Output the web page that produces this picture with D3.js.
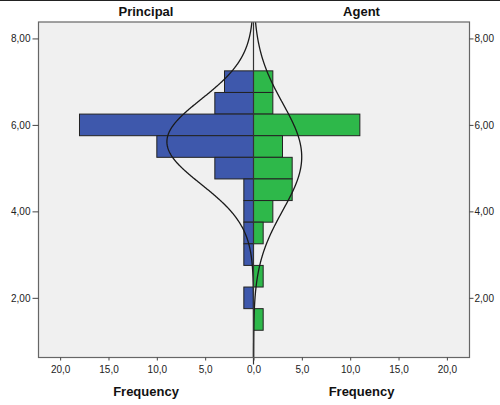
<!DOCTYPE html>
<html><head><meta charset="utf-8">
<script src="https://cdn.jsdelivr.net/npm/d3@7"></script>
<style>body{margin:0;background:#fff}svg{display:block}text{font-family:"Liberation Sans",Arial,sans-serif}</style>
</head><body>
<svg id="c" width="500" height="405"></svg>
<script>
const binCenters = [7.0, 6.5, 6.0, 5.5, 5.0, 4.5, 4.0, 3.5, 3.0, 2.5, 2.0, 1.5];
const principalCounts = [3, 4, 18, 10, 4, 1, 1, 1, 1, 0, 1, 0];
const agentCounts = [2, 2, 11, 3, 4, 4, 2, 1, 0, 1, 0, 1];
const binWidth = 0.5;
const principalFit = {mean: 5.61, sd: 0.98, n: 44};
const agentFit = {mean: 5.26, sd: 1.24, n: 31};
const yTicks = [2, 4, 6, 8];
const xTicks = [0, 5, 10, 15, 20];
const panelTitles = ["Principal", "Agent"];
const xTitle = "Frequency";

const svg = d3.select("#c");
const L = 38.5, R = 469.5, T = 22, B = 357.5, C = 253.5;
const y = d3.scaleLinear().domain([0.62, 8.38]).range([B, T]);
const xl = d3.scaleLinear().domain([0, 22.24]).range([C, L]);
const xr = d3.scaleLinear().domain([0, 22.34]).range([C, R]);
const fmt1 = d => d.toFixed(1).replace(".", ",");
const fmt2 = d => d.toFixed(2).replace(".", ",");

svg.append("line").attr("x1",0).attr("x2",500).attr("y1",0.5).attr("y2",0.5).attr("stroke","#222").attr("stroke-width",1);

svg.append("rect").attr("x",L).attr("y",T).attr("width",R-L).attr("height",B-T).attr("fill","#f0f0f0");

svg.append("clipPath").attr("id","clip").append("rect").attr("x",L).attr("y",T).attr("width",R-L).attr("height",B-T);
const g = svg.append("g").attr("clip-path","url(#clip)");

const pData = binCenters.map((c,i)=>({c, v: principalCounts[i]})).filter(d=>d.v>0);
const aData = binCenters.map((c,i)=>({c, v: agentCounts[i]})).filter(d=>d.v>0);

g.selectAll("rect.p").data(pData).join("rect")
  .attr("x", d=>xl(d.v)).attr("width", d=>xl(0)-xl(d.v))
  .attr("y", d=>y(d.c+binWidth/2)).attr("height", d=>y(d.c-binWidth/2)-y(d.c+binWidth/2))
  .attr("fill","#3e58ac").attr("stroke","#222").attr("stroke-width",1);
g.selectAll("rect.a").data(aData).join("rect")
  .attr("x", xr(0)).attr("width", d=>xr(d.v)-xr(0))
  .attr("y", d=>y(d.c+binWidth/2)).attr("height", d=>y(d.c-binWidth/2)-y(d.c+binWidth/2))
  .attr("fill","#2eb84a").attr("stroke","#222").attr("stroke-width",1);

function pdfVal(f, v){ return f.n*binWidth/(f.sd*Math.sqrt(2*Math.PI))*Math.exp(-0.5*((v-f.mean)/f.sd)**2); }
const ys = d3.range(0.5, 8.6, 0.02);
g.append("path").datum(ys).attr("fill","none").attr("stroke","#1a1a1a").attr("stroke-width",1.3)
  .attr("d", d3.line().x(v=>xl(pdfVal(principalFit,v))).y(v=>y(v)));
g.append("path").datum(ys).attr("fill","none").attr("stroke","#1a1a1a").attr("stroke-width",1.3)
  .attr("d", d3.line().x(v=>xr(pdfVal(agentFit,v))).y(v=>y(v)));

svg.append("line").attr("x1",C).attr("x2",C).attr("y1",T).attr("y2",B+7).attr("stroke","#333").attr("stroke-width",1.2);

svg.append("rect").attr("x",L).attr("y",T).attr("width",R-L).attr("height",B-T).attr("fill","none").attr("stroke","#666").attr("stroke-width",1.2);

// axes
const ax = (sel)=>{ sel.select(".domain").remove(); sel.selectAll("line").attr("stroke","#444"); sel.selectAll("text").attr("fill","#222").style("font-size","10px").style("font-family","'Liberation Sans',Arial,sans-serif"); };
svg.append("g").attr("transform",`translate(${L},0)`).call(d3.axisLeft(y).tickValues(yTicks).tickFormat(fmt2).tickSize(6).tickPadding(2)).call(ax);
svg.append("g").attr("transform",`translate(${R},0)`).call(d3.axisRight(y).tickValues(yTicks).tickFormat(fmt2).tickSize(4).tickPadding(1)).call(ax);
svg.append("g").attr("transform",`translate(0,${B})`).call(d3.axisBottom(xl).tickValues(xTicks).tickFormat(fmt1).tickSize(3).tickPadding(5)).call(ax);
svg.append("g").attr("transform",`translate(0,${B})`).call(d3.axisBottom(xr).tickValues(xTicks.filter(d=>d>0)).tickFormat(fmt1).tickSize(3).tickPadding(5)).call(ax);

const centers = [(L+C)/2, (C+R)/2];
svg.selectAll("text.pt").data(panelTitles).join("text").attr("x",(d,i)=>centers[i]).attr("y",15.5)
  .attr("text-anchor","middle").style("font-size","13px").style("font-weight","bold").attr("fill","#111").text(d=>d);
svg.selectAll("text.xt").data([0,1]).join("text").attr("x",i=>centers[i]).attr("y",395.5)
  .attr("text-anchor","middle").style("font-size","13px").style("font-weight","bold").attr("fill","#111").text(xTitle);
</script>
</body></html>
